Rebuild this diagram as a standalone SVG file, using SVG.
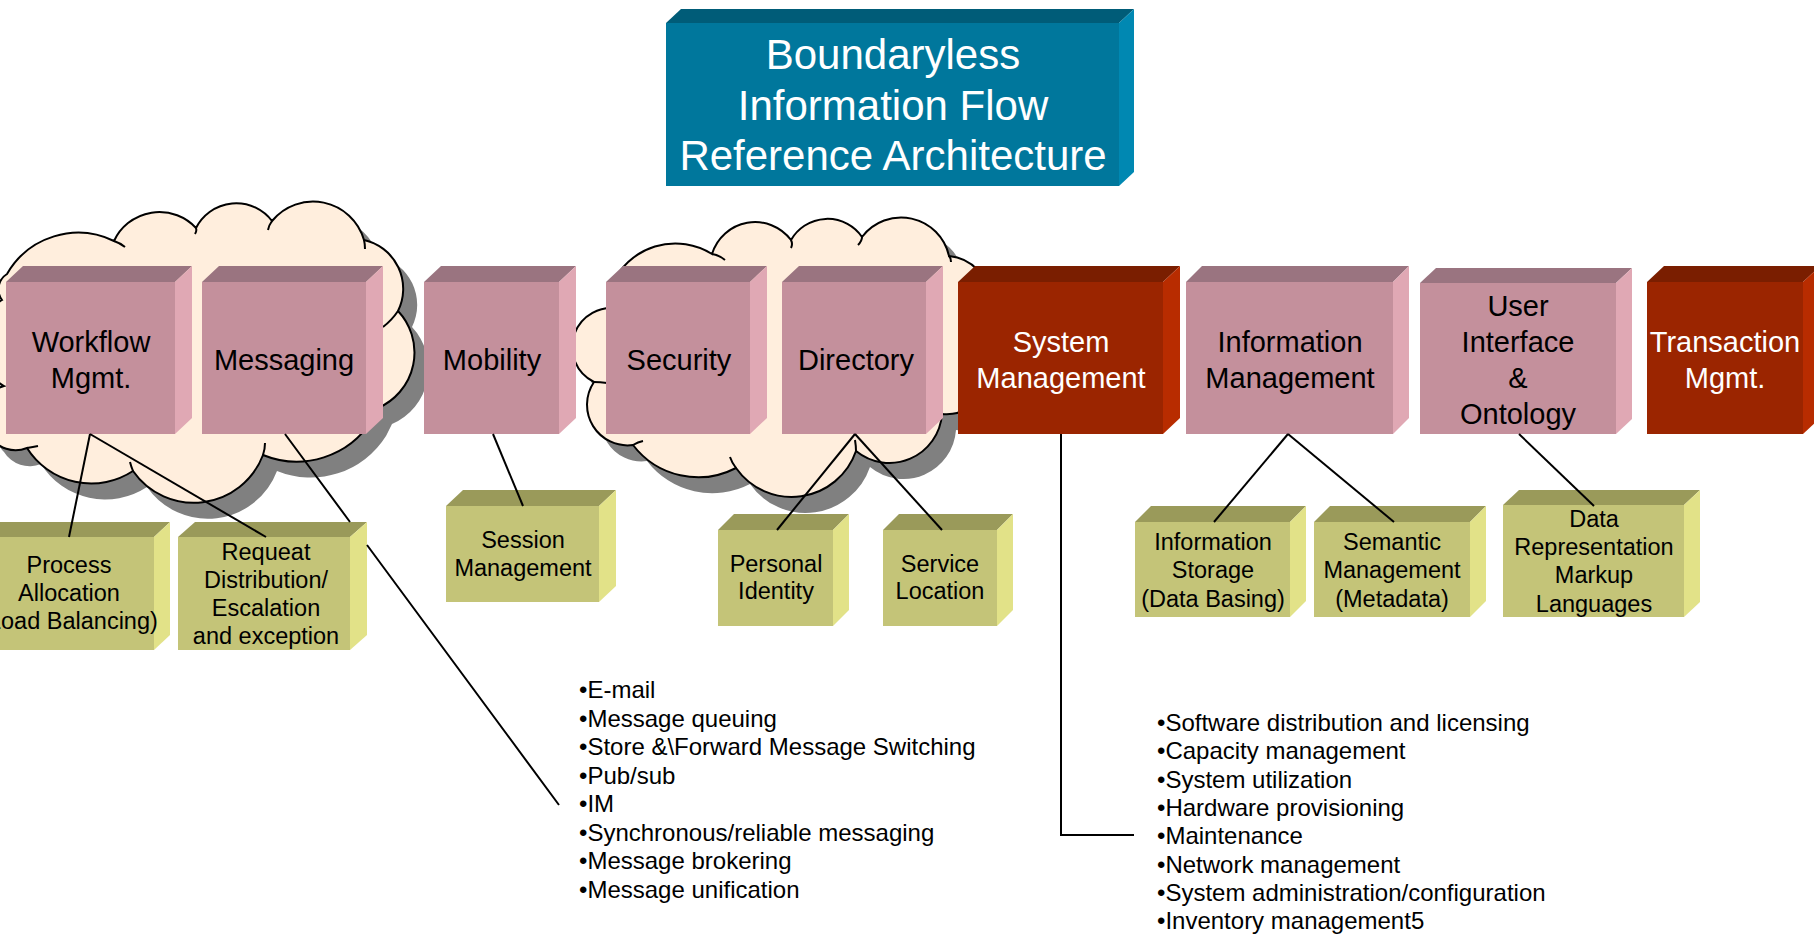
<svg xmlns="http://www.w3.org/2000/svg" width="1814" height="934" viewBox="0 0 1814 934">
<style>
text { font-family: "Liberation Sans", Arial, sans-serif; }
.big { font-size: 29px; fill: #000; text-anchor: middle; }
.bigw { font-size: 29px; fill: #fff; text-anchor: middle; }
.sm { font-size: 23.5px; fill: #000; text-anchor: middle; }
.lst { font-size: 24px; fill: #000; }
.ttl { font-size: 42px; fill: #fff; text-anchor: middle; }
.pf { fill: #C4909C; } .pt { fill: #9A7480; } .pr { fill: #E0A8B4; }
.rf { fill: #9B2500; } .rt { fill: #7A1E00; } .rr { fill: #B82C00; }
.of { fill: #C4C478; } .ot { fill: #9A9A5A; } .or { fill: #E2E288; }
.tf { fill: #00779C; } .tt { fill: #005C78; } .tr { fill: #0088B2; }
.cloud { fill: #FFEEDD; stroke: #000; stroke-width: 2; }
.shadow { fill: #808080; }
.mark { fill: none; stroke: #000; stroke-width: 2; }
.conn { fill: none; stroke: #000; stroke-width: 2; }
</style>
<defs>
<path id="cloud1p" d="M 2,300 A 18 18 0 0 1 7,274 A 82 82 0 0 1 114,241 A 50 50 0 0 1 196,228 A 45 45 0 0 1 272,221 A 53 53 0 0 1 364,240 A 50 50 0 0 1 398,311 A 60.5 60.5 0 0 1 378,408 L 372,420 A 89 89 0 0 1 263,455 A 74 74 0 0 1 133,471 A 76 76 0 0 1 27,448 A 30 30 0 0 1 -10,436 A 30 30 0 0 1 4,386 A 50 50 0 0 1 2,300 Z"/>
<path id="cloud2p" d="M 612,285 A 69 69 0 0 1 712,254 A 45 45 0 0 1 791,240 A 42 42 0 0 1 862,237 A 49 49 0 0 1 949,256 A 45 45 0 0 1 990,300 L 985,385 A 40 40 0 0 1 942,414 A 52.7 52.7 0 0 1 856,451 A 68 68 0 0 1 736,468 A 82 82 0 0 1 633,445 A 40.6 40.6 0 0 1 594,382 A 39 39 0 0 1 620,309 Z"/>
</defs>

<g id="cloud1">
<use href="#cloud1p" class="shadow" transform="translate(14,16)"/>
<use href="#cloud1p" class="cloud"/>
<path class="mark" d="M114,241 Q120,243 125,247 M196,228 Q197,231 195,234 M272,221 Q269,225 268,230 M364,240 Q365,244 365,249 M398,311 Q392,320 383,327 M263,455 Q265,449 265,443 M133,471 Q131,466 130,462 M27,448 Q33,447 38,446"/>
</g>
<g id="cloud2">
<use href="#cloud2p" class="shadow" transform="translate(14,16)"/>
<use href="#cloud2p" class="cloud"/>
<path class="mark" d="M712,254 Q719,255 725,260 M791,240 Q793,244 791,248 M862,237 Q862,241 858,245 M949,256 Q951,258 951,262 M856,451 Q856,446 855,440 M736,468 Q732,463 730,457 M633,445 Q638,442 643,441 M594,382 Q600,382 607,383"/>
</g>

<g id="title">
<rect class="tf" x="666" y="23" width="453" height="163"/>
<polygon class="tt" points="666,23 681,9 1134,9 1119,23"/>
<polygon class="tr" points="1119,23 1134,9 1134,172 1119,186"/>
<text class="ttl" x="893" y="69">Boundaryless</text>
<text class="ttl" x="893" y="120">Information Flow</text>
<text class="ttl" x="893" y="170">Reference Architecture</text>
</g>

<g id="workflow">
<rect class="pf" x="6" y="282" width="169" height="152"/>
<polygon class="pt" points="6,282 23,266 192,266 175,282"/>
<polygon class="pr" points="175,282 192,266 192,418 175,434"/>
<text class="big" x="91" y="352">Workflow</text>
<text class="big" x="91" y="388">Mgmt.</text>
</g>
<g id="messaging">
<rect class="pf" x="202" y="282" width="164" height="152"/>
<polygon class="pt" points="202,282 219,266 383,266 366,282"/>
<polygon class="pr" points="366,282 383,266 383,418 366,434"/>
<text class="big" x="284" y="370">Messaging</text>
</g>
<g id="mobility">
<rect class="pf" x="424" y="282" width="135" height="152"/>
<polygon class="pt" points="424,282 441,266 576,266 559,282"/>
<polygon class="pr" points="559,282 576,266 576,418 559,434"/>
<text class="big" x="492" y="370">Mobility</text>
</g>
<g id="security">
<rect class="pf" x="606" y="282" width="144" height="152"/>
<polygon class="pt" points="606,282 623,266 767,266 750,282"/>
<polygon class="pr" points="750,282 767,266 767,418 750,434"/>
<text class="big" x="679" y="370">Security</text>
</g>
<g id="directory">
<rect class="pf" x="782" y="282" width="144" height="152"/>
<polygon class="pt" points="782,282 799,266 943,266 926,282"/>
<polygon class="pr" points="926,282 943,266 943,418 926,434"/>
<text class="big" x="856" y="370">Directory</text>
</g>
<g id="system-management">
<rect class="rf" x="958" y="282" width="205" height="152"/>
<polygon class="rt" points="958,282 975,266 1180,266 1163,282"/>
<polygon class="rr" points="1163,282 1180,266 1180,418 1163,434"/>
<text class="bigw" x="1061" y="352">System</text>
<text class="bigw" x="1061" y="388">Management</text>
</g>
<g id="information-management">
<rect class="pf" x="1186" y="282" width="207" height="152"/>
<polygon class="pt" points="1186,282 1202,266 1409,266 1393,282"/>
<polygon class="pr" points="1393,282 1409,266 1409,418 1393,434"/>
<text class="big" x="1290" y="352">Information</text>
<text class="big" x="1290" y="388">Management</text>
</g>
<g id="user-interface">
<rect class="pf" x="1420" y="283" width="196" height="151"/>
<polygon class="pt" points="1420,283 1436,268 1632,268 1616,283"/>
<polygon class="pr" points="1616,283 1632,268 1632,419 1616,434"/>
<text class="big" x="1518" y="316">User</text>
<text class="big" x="1518" y="352">Interface</text>
<text class="big" x="1518" y="388">&amp;</text>
<text class="big" x="1518" y="424">Ontology</text>
</g>
<g id="transaction-management">
<rect class="rf" x="1647" y="282" width="156" height="152"/>
<polygon class="rt" points="1647,282 1664,266 1820,266 1803,282"/>
<polygon class="rr" points="1803,282 1820,266 1820,418 1803,434"/>
<text class="bigw" x="1725" y="352">Transaction</text>
<text class="bigw" x="1725" y="388">Mgmt.</text>
</g>

<g id="process-allocation">
<rect class="of" x="-16" y="537" width="170" height="113"/>
<polygon class="ot" points="-16,537 0,522 170,522 154,537"/>
<polygon class="or" points="154,537 170,522 170,635 154,650"/>
<text class="sm" x="69" y="573">Process</text>
<text class="sm" x="69" y="601">Allocation</text>
<text class="sm" x="69" y="629">(Load Balancing)</text>
</g>
<g id="request-distribution">
<rect class="of" x="178" y="537" width="172" height="113"/>
<polygon class="ot" points="178,537 195,522 367,522 350,537"/>
<polygon class="or" points="350,537 367,522 367,635 350,650"/>
<text class="sm" x="266" y="560">Requeat</text>
<text class="sm" x="266" y="588">Distribution/</text>
<text class="sm" x="266" y="616">Escalation</text>
<text class="sm" x="266" y="644">and exception</text>
</g>
<g id="session-management">
<rect class="of" x="446" y="506" width="153" height="96"/>
<polygon class="ot" points="446,506 463,490 616,490 599,506"/>
<polygon class="or" points="599,506 616,490 616,586 599,602"/>
<text class="sm" x="523" y="548">Session</text>
<text class="sm" x="523" y="576">Management</text>
</g>
<g id="personal-identity">
<rect class="of" x="718" y="530" width="115" height="96"/>
<polygon class="ot" points="718,530 734,514 849,514 833,530"/>
<polygon class="or" points="833,530 849,514 849,610 833,626"/>
<text class="sm" x="776" y="572">Personal</text>
<text class="sm" x="776" y="599">Identity</text>
</g>
<g id="service-location">
<rect class="of" x="883" y="530" width="114" height="96"/>
<polygon class="ot" points="883,530 899,514 1013,514 997,530"/>
<polygon class="or" points="997,530 1013,514 1013,610 997,626"/>
<text class="sm" x="940" y="572">Service</text>
<text class="sm" x="940" y="599">Location</text>
</g>
<g id="information-storage">
<rect class="of" x="1135" y="522" width="155" height="95"/>
<polygon class="ot" points="1135,522 1151,506 1306,506 1290,522"/>
<polygon class="or" points="1290,522 1306,506 1306,601 1290,617"/>
<text class="sm" x="1213" y="550">Information</text>
<text class="sm" x="1213" y="578">Storage</text>
<text class="sm" x="1213" y="607">(Data Basing)</text>
</g>
<g id="semantic-management">
<rect class="of" x="1314" y="522" width="156" height="95"/>
<polygon class="ot" points="1314,522 1330,506 1486,506 1470,522"/>
<polygon class="or" points="1470,522 1486,506 1486,601 1470,617"/>
<text class="sm" x="1392" y="550">Semantic</text>
<text class="sm" x="1392" y="578">Management</text>
<text class="sm" x="1392" y="607">(Metadata)</text>
</g>
<g id="data-representation">
<rect class="of" x="1503" y="505" width="181" height="112"/>
<polygon class="ot" points="1503,505 1519,490 1700,490 1684,505"/>
<polygon class="or" points="1684,505 1700,490 1700,602 1684,617"/>
<text class="sm" x="1594" y="527">Data</text>
<text class="sm" x="1594" y="555">Representation</text>
<text class="sm" x="1594" y="583">Markup</text>
<text class="sm" x="1594" y="612">Languages</text>
</g>

<g id="connectors">
<path class="conn" d="M90,434 L69,537"/>
<path class="conn" d="M90,434 L266,537"/>
<path class="conn" d="M285,434 L350,522 M367,545 L559,805"/>
<path class="conn" d="M493,434 L523,506"/>
<path class="conn" d="M855,434 L777,530"/>
<path class="conn" d="M855,434 L942,530"/>
<path class="conn" d="M1061,434 L1061,835 L1134,835"/>
<path class="conn" d="M1288,434 L1214,522"/>
<path class="conn" d="M1288,434 L1394,522"/>
<path class="conn" d="M1519,434 L1594,506"/>
</g>

<g id="messaging-list">
<text class="lst" x="579" y="698">•E-mail</text>
<text class="lst" x="579" y="726.5">•Message queuing</text>
<text class="lst" x="579" y="755">•Store &amp;\Forward Message Switching</text>
<text class="lst" x="579" y="783.5">•Pub/sub</text>
<text class="lst" x="579" y="812">•IM</text>
<text class="lst" x="579" y="840.5">•Synchronous/reliable messaging</text>
<text class="lst" x="579" y="869">•Message brokering</text>
<text class="lst" x="579" y="897.5">•Message unification</text>
</g>
<g id="system-management-list">
<text class="lst" x="1157" y="731">•Software distribution and licensing</text>
<text class="lst" x="1157" y="759">•Capacity management</text>
<text class="lst" x="1157" y="788">•System utilization</text>
<text class="lst" x="1157" y="816">•Hardware provisioning</text>
<text class="lst" x="1157" y="844">•Maintenance</text>
<text class="lst" x="1157" y="873">•Network management</text>
<text class="lst" x="1157" y="901">•System administration/configuration</text>
<text class="lst" x="1157" y="929">•Inventory management5</text>
</g>
</svg>
